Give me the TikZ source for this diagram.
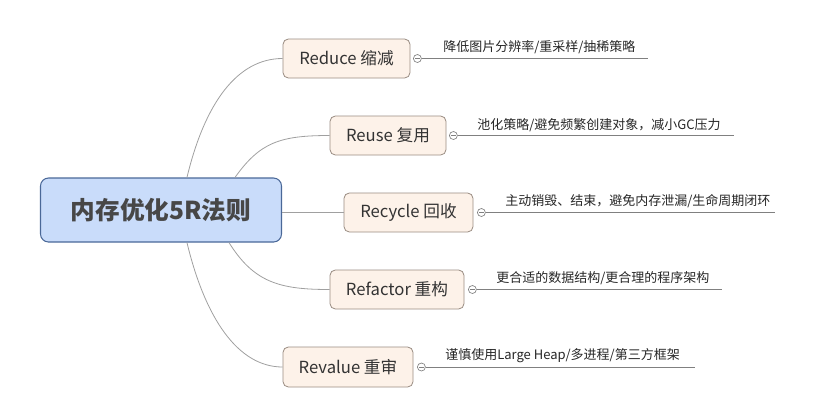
\documentclass[tikz,border=0pt]{standalone}
\usepackage{fontspec}
\setmainfont{Noto Sans CJK SC}
\usetikzlibrary{calc}
\definecolor{cfill}{HTML}{C9DCFA}
\definecolor{cdraw}{HTML}{4A6898}
\definecolor{bfill}{HTML}{FDF2E9}
\definecolor{bdraw}{HTML}{9A8C82}
\definecolor{txt}{HTML}{333333}
\definecolor{curve}{HTML}{A0A0A0}
\definecolor{uline}{HTML}{808080}
\tikzset{
  central/.style={draw=cdraw, fill=cfill, line width=0.8pt, rounded corners=6pt, inner sep=0pt,
    minimum width=180.75pt, minimum height=48pt, font=\fontsize{18.5}{20}\selectfont\bfseries, text=txt!90},
  branch/.style={draw=bdraw, fill=bfill, line width=0.6pt, rounded corners=4pt, inner sep=0pt,
    minimum height=29.25pt, font=\fontsize{12.5}{14}\selectfont, text=txt},
  link/.style={draw=curve, line width=0.6pt},
  toggle/.style={circle, draw=uline, fill=white, line width=0.5pt, inner sep=0pt, minimum size=6pt,
    path picture={\draw[uline, line width=0.5pt] ([xshift=-1.8pt]path picture bounding box.center) -- ([xshift=1.8pt]path picture bounding box.center);}},
  leafline/.style={draw=uline, line width=0.6pt},
  leaf/.style={anchor=west, inner sep=0pt, font=\fontsize{9.75}{11}\selectfont, text=black!85},
}
\begin{document}
\begin{tikzpicture}[x=0.75pt, y=-0.75pt]
\useasboundingbox (0,0) rectangle (822,419);

\node[central] (c) at (161,210) {内存优化5R法则};

\node[branch, minimum width=95.25pt] (b1) at (346.5,58.5) {Reduce 缩减};
\node[branch, minimum width=87pt] (b2) at (388,135.5) {Reuse 复用};
\node[branch, minimum width=96.75pt] (b3) at (408.5,212.5) {Recycle 回收};
\node[branch, minimum width=100.5pt] (b4) at (397,289.5) {Refactor 重构};
\node[branch, minimum width=97.5pt, minimum height=30pt] (b5) at (348,367) {Revalue 重审};

% connectors
\draw[link] ([xshift=110.25pt]c.north west) .. controls ($([xshift=110.25pt]c.north west)+(18,-75)$) and ($(b1.west)+(-45,0)$) .. (b1.west);
\draw[link] ([xshift=146.25pt]c.north west) .. controls ($([xshift=146.25pt]c.north west)+(25,-35)$) and ($(b2.west)+(-50,0)$) .. (b2.west);
\draw[link] (c.east |- b3.west) -- (b3.west);
\draw[link] ([xshift=141.75pt]c.south west) .. controls ($([xshift=141.75pt]c.south west)+(25,40)$) and ($(b4.west)+(-50,0)$) .. (b4.west);
\draw[link] ([xshift=110.25pt]c.south west) .. controls ($([xshift=110.25pt]c.south west)+(18,75)$) and ($(b5.west)+(-45,0)$) .. (b5.west);

% toggles
\node[toggle] (t1) at ($(b1.east)+(7,0)$) {};
\node[toggle] (t2) at ($(b2.east)+(7,0)$) {};
\node[toggle] (t3) at ($(b3.east)+(8,0)$) {};
\node[toggle] (t4) at ($(b4.east)+(8,0)$) {};
\node[toggle] (t5) at ($(b5.east)+(8,0)$) {};

% leaf lines
\coordinate (e1) at (648,59);
\coordinate (e2) at (734,137);
\coordinate (e3) at (775,213);
\coordinate (e4) at (722,291);
\coordinate (e5) at (695,368);
\draw[leafline] (t1.east) -- (t1.east -| e1);
\draw[leafline] (t2.east) -- (t2.east -| e2);
\draw[leafline] (t3.east) -- (t3.east -| e3);
\draw[leafline] (t4.east) -- (t4.east -| e4);
\draw[leafline] (t5.east) -- (t5.east -| e5);

% leaf texts
\node[leaf] (l1) at (443,47) {降低图片分辨率/重采样/抽稀策略};
\node[leaf] (l2) at (477,125) {池化策略/避免频繁创建对象，减小GC压力};
\node[leaf] (l3) at (505,201) {主动销毁、结束，避免内存泄漏/生命周期闭环};
\node[leaf] (l4) at (496,278) {更合适的数据结构/更合理的程序架构};
\node[leaf] (l5) at (445,356) {谨慎使用Large Heap/多进程/第三方框架};
\end{tikzpicture}
\end{document}
